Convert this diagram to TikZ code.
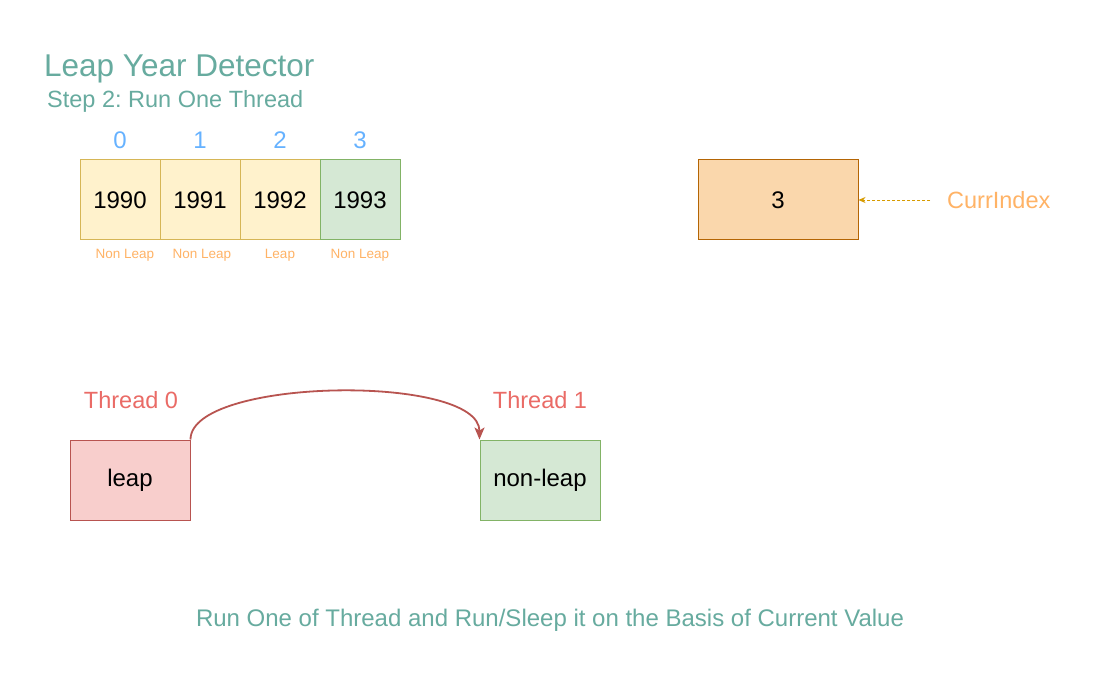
\documentclass[tikz,border=0pt]{standalone}
\usepackage{fontspec}
\setmainfont{Liberation Sans}
\usetikzlibrary{arrows.meta}
\definecolor{teal}{HTML}{67AB9F}
\definecolor{idxblue}{HTML}{66B2FF}
\definecolor{lorange}{HTML}{FFB366}
\definecolor{yfill}{HTML}{FFF2CC}
\definecolor{ystroke}{HTML}{D6B656}
\definecolor{gfill}{HTML}{D5E8D4}
\definecolor{gstroke}{HTML}{82B366}
\definecolor{ofill}{HTML}{FAD7AC}
\definecolor{ostroke}{HTML}{B46504}
\definecolor{rfill}{HTML}{F8CECC}
\definecolor{rstroke}{HTML}{B85450}
\definecolor{redtxt}{HTML}{EA6B66}
\definecolor{gold}{HTML}{D79B00}
\newcommand{\fs}[1]{\fontsize{#1}{#1}\selectfont}
\frenchspacing
\tikzset{
  cell/.style={draw=ystroke, fill=yfill, line width=1pt, minimum width=80pt, minimum height=80pt, inner sep=0pt, font=\fs{24}, text=black},
  gcell/.style={cell, draw=gstroke, fill=gfill},
  idx/.style={text=idxblue, font=\fs{24}, inner sep=0pt},
  small/.style={text=lorange, font=\fs{13.5}, inner sep=0pt},
  thbox/.style={line width=1pt, minimum width=120pt, minimum height=80pt, inner sep=0pt, font=\fs{24}, text=black},
  thlabel/.style={text=redtxt, font=\fs{23.5}, inner sep=0pt},
}
\begin{document}
\begin{tikzpicture}[x=1pt,y=-1pt]
\useasboundingbox[fill=white] (0,0) rectangle (1100,700);
% titles
\node[anchor=base west, text=teal, font=\fs{31.5}, inner sep=0pt] (title) at (44,77) {Leap Year Detector};
\node[anchor=base west, text=teal, font=\fs{23.5}, inner sep=0pt] (step) at (47,108) {Step 2: Run One Thread};
% index labels
\node[idx] (i0) at (120,140) {0};
\node[idx] (i1) at (200,140) {1};
\node[idx] (i2) at (280,140) {2};
\node[idx] (i3) at (360,140) {3};
% cells
\node[cell] (c0) at (120,200) {1990};
\node[cell] (c1) at (200,200) {1991};
\node[cell] (c2) at (280,200) {1992};
\node[gcell] (c3) at (360,200) {1993};
% small labels
\node[small] (l0) at (125,255) {Non Leap};
\node[small] (l1) at (202,255) {Non Leap};
\node[small] (l2) at (280,255) {Leap};
\node[small] (l3) at (360,255) {Non Leap};
% current index
\node[draw=ostroke, fill=ofill, line width=1pt, minimum width=160pt, minimum height=80pt, inner sep=0pt, font=\fs{24}] (cur) at (778,200) {3};
\node[anchor=west, text=lorange, font=\fs{23.5}, inner sep=0pt] (ci) at (947,200) {CurrIndex};
\draw[gold, line width=0.9pt, dash pattern=on 3pt off 2pt, -{Stealth[length=7pt,width=6pt]}] ([xshift=-17pt]ci.west) -- (cur.east);
% threads
\node[thlabel] (t0) at (131,400) {Thread 0};
\node[thlabel] (t1) at (540,400) {Thread 1};
\node[thbox, draw=rstroke, fill=rfill] (leap) at (130,480) {leap};
\node[thbox, draw=gstroke, fill=gfill] (nonleap) at (540,480) {non-leap};
\draw[rstroke, line width=1.8pt, -{Stealth[length=12pt,width=10pt,inset=3pt]}] (leap.north east) .. controls +(0,-62) and +(0,-66) .. (nonleap.north west);
% caption
\node[text=teal, font=\fs{24}, inner sep=0pt] (cap) at (550,620) {Run One of Thread and Run/Sleep it on the Basis of Current Value};
\end{tikzpicture}
\end{document}
